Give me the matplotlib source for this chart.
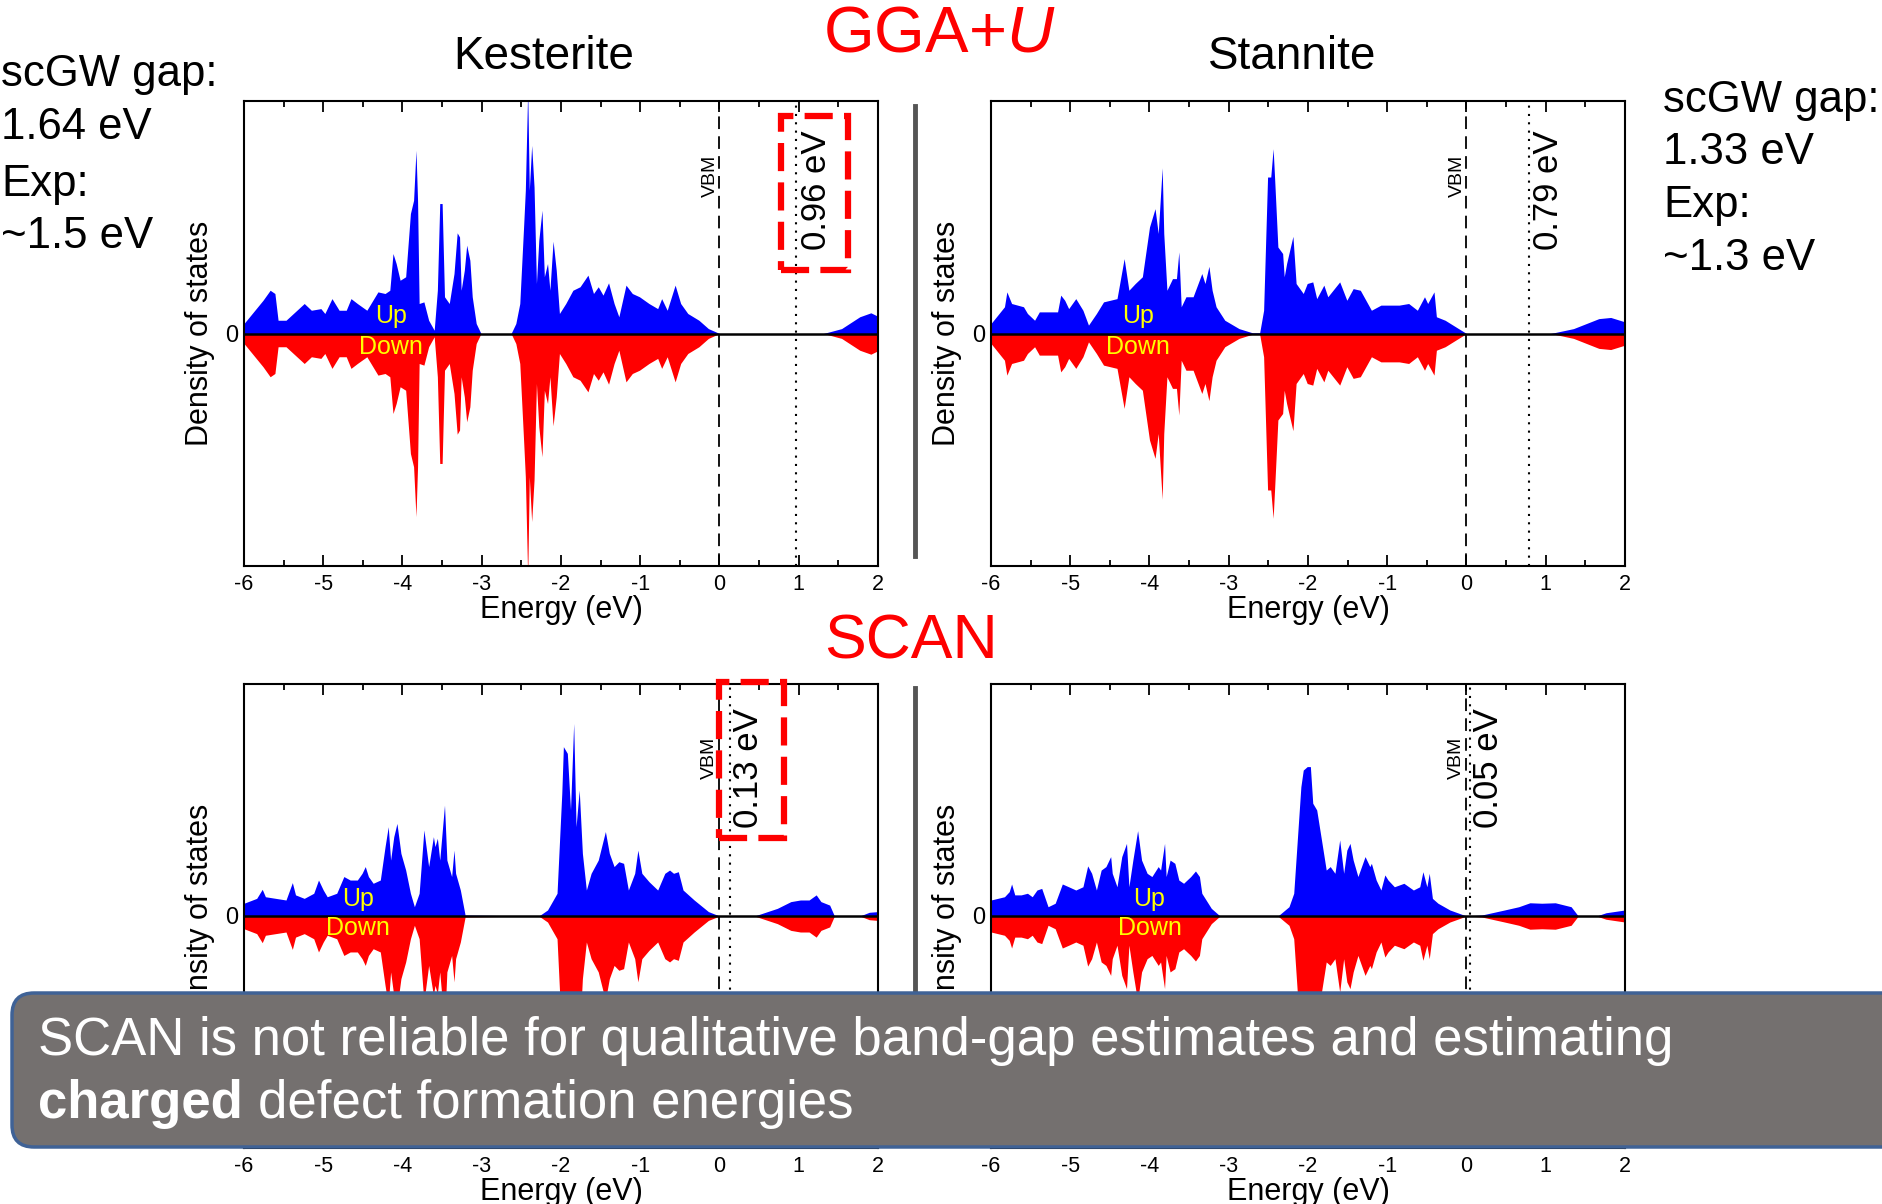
"""
Densidade de estados (DOS) - Kesterite x Stannite, GGA+U e SCAN
"""
import numpy as np
import matplotlib.pyplot as plt
from matplotlib.lines import Line2D
from matplotlib.patches import Rectangle, FancyBboxPatch
from matplotlib.transforms import IdentityTransform

# ==============================================================================
# CONFIGURACAO DE FONTES
# ==============================================================================
plt.rcParams['font.family'] = ['Liberation Sans', 'DejaVu Sans']
plt.rcParams['axes.unicode_minus'] = False
plt.rcParams['mathtext.fontset'] = 'custom'
plt.rcParams['mathtext.rm'] = 'Liberation Sans'
plt.rcParams['mathtext.it'] = 'Liberation Sans:italic'

# ==============================================================================
# DADOS (DOS normalizada pelo topo do eixo, spin up = spin down)
# ==============================================================================
kes_gga_energy = [-6.00, -5.76, -5.67, -5.61, -5.57, -5.47, -5.24, -5.15, -5.03, -4.98,
                  -4.89, -4.80, -4.71, -4.65, -4.57, -4.45, -4.31, -4.22, -4.16, -4.12,
                  -4.08, -4.03, -3.96, -3.90, -3.86, -3.83, -3.81, -3.79, -3.73, -3.67,
                  -3.60, -3.56, -3.53, -3.50, -3.47, -3.41, -3.35, -3.31, -3.28, -3.26,
                  -3.22, -3.19, -3.15, -3.12, -3.07, -3.01, -2.63, -2.57, -2.52, -2.47,
                  -2.45, -2.42, -2.40, -2.37, -2.34, -2.31, -2.28, -2.24, -2.21, -2.17,
                  -2.14, -2.10, -2.06, -2.02, -1.94, -1.85, -1.76, -1.66, -1.59, -1.53,
                  -1.47, -1.40, -1.33, -1.27, -1.18, -1.10, -1.01, -0.89, -0.78, -0.73,
                  -0.66, -0.56, -0.49, -0.40, -0.26, -0.14, 0.00, 1.31, 1.54, 1.77,
                  1.91, 2.00]
kes_gga_dos = [0.043, 0.143, 0.186, 0.172, 0.057, 0.057, 0.129, 0.100, 0.107, 0.086,
               0.150, 0.100, 0.100, 0.150, 0.129, 0.100, 0.179, 0.172, 0.186, 0.344,
               0.301, 0.229, 0.244, 0.516, 0.573, 0.788, 0.573, 0.129, 0.136, 0.057,
               0.014, 0.186, 0.559, 0.559, 0.158, 0.129, 0.258, 0.433, 0.415, 0.186,
               0.272, 0.380, 0.315, 0.158, 0.043, 0.000, 0.000, 0.043, 0.129, 0.473,
               0.616, 1.050, 0.616, 0.809, 0.630, 0.215, 0.401, 0.530, 0.244, 0.301,
               0.186, 0.397, 0.272, 0.086, 0.129, 0.186, 0.201, 0.251, 0.172, 0.201,
               0.165, 0.218, 0.129, 0.072, 0.208, 0.172, 0.158, 0.129, 0.107, 0.150,
               0.100, 0.208, 0.129, 0.086, 0.057, 0.021, 0.000, 0.000, 0.021, 0.072,
               0.089, 0.074]

sta_gga_energy = [-6.00, -5.83, -5.80, -5.74, -5.59, -5.54, -5.45, -5.39, -5.16, -5.12,
                  -5.07, -5.02, -4.93, -4.84, -4.77, -4.67, -4.58, -4.41, -4.32, -4.26,
                  -4.18, -4.09, -4.00, -3.93, -3.89, -3.84, -3.82, -3.78, -3.71, -3.66,
                  -3.63, -3.60, -3.54, -3.45, -3.34, -3.30, -3.25, -3.21, -3.16, -3.05,
                  -2.87, -2.70, -2.61, -2.56, -2.51, -2.47, -2.44, -2.42, -2.38, -2.32,
                  -2.30, -2.27, -2.19, -2.15, -2.06, -2.01, -1.94, -1.89, -1.80, -1.75,
                  -1.60, -1.51, -1.43, -1.34, -1.20, -1.08, -0.85, -0.73, -0.62, -0.53,
                  -0.49, -0.41, -0.38, -0.27, -0.10, 0.00, 1.06, 1.35, 1.67, 1.82,
                  2.00]
sta_gga_dos = [0.043, 0.115, 0.179, 0.129, 0.115, 0.086, 0.057, 0.093, 0.093, 0.165,
               0.143, 0.107, 0.150, 0.100, 0.036, 0.086, 0.136, 0.150, 0.322, 0.186,
               0.215, 0.244, 0.458, 0.537, 0.430, 0.713, 0.430, 0.186, 0.236, 0.236,
               0.351, 0.115, 0.158, 0.158, 0.258, 0.215, 0.289, 0.186, 0.115, 0.057,
               0.021, 0.003, 0.003, 0.100, 0.673, 0.673, 0.795, 0.659, 0.372, 0.344,
               0.244, 0.301, 0.418, 0.215, 0.172, 0.215, 0.222, 0.150, 0.208, 0.158,
               0.222, 0.143, 0.193, 0.186, 0.100, 0.122, 0.122, 0.129, 0.100, 0.158,
               0.129, 0.179, 0.072, 0.057, 0.021, 0.000, 0.000, 0.021, 0.064, 0.069,
               0.050]

kes_scan_energy = [-6.00, -5.84, -5.77, -5.73, -5.47, -5.39, -5.35, -5.24, -5.12, -5.06,
                   -5.00, -4.95, -4.83, -4.74, -4.66, -4.57, -4.51, -4.47, -4.43, -4.37,
                   -4.28, -4.22, -4.18, -4.15, -4.11, -4.07, -4.02, -3.96, -3.90, -3.85,
                   -3.79, -3.73, -3.67, -3.61, -3.59, -3.56, -3.53, -3.47, -3.44, -3.38,
                   -3.35, -3.33, -3.27, -3.21, -2.28, -2.17, -2.05, -1.99, -1.97, -1.92,
                   -1.88, -1.84, -1.81, -1.77, -1.73, -1.68, -1.62, -1.53, -1.44, -1.39,
                   -1.33, -1.27, -1.21, -1.15, -1.07, -1.03, -0.98, -0.89, -0.78, -0.69,
                   -0.63, -0.58, -0.52, -0.46, -0.32, -0.14, 0.00, 0.44, 0.73, 0.90,
                   1.02, 1.13, 1.22, 1.28, 1.39, 1.45, 1.77, 1.89, 2.00]
kes_scan_dos = [0.055, 0.076, 0.115, 0.083, 0.069, 0.144, 0.091, 0.076, 0.098, 0.155,
                0.112, 0.083, 0.098, 0.170, 0.155, 0.155, 0.184, 0.213, 0.170, 0.141,
                0.155, 0.299, 0.385, 0.241, 0.342, 0.399, 0.270, 0.198, 0.098, 0.040,
                0.098, 0.371, 0.213, 0.342, 0.299, 0.335, 0.241, 0.478, 0.241, 0.170,
                0.284, 0.184, 0.112, 0.004, 0.000, 0.026, 0.098, 0.529, 0.730, 0.701,
                0.457, 0.830, 0.385, 0.543, 0.270, 0.112, 0.184, 0.241, 0.364, 0.270,
                0.213, 0.234, 0.227, 0.112, 0.184, 0.284, 0.184, 0.148, 0.112, 0.184,
                0.198, 0.184, 0.191, 0.112, 0.069, 0.019, 0.000, 0.000, 0.033, 0.062,
                0.069, 0.069, 0.091, 0.062, 0.047, 0.000, 0.000, 0.016, 0.019]

sta_scan_energy = [-6.00, -5.83, -5.77, -5.74, -5.70, -5.62, -5.54, -5.48, -5.42, -5.36,
                   -5.28, -5.19, -5.10, -5.02, -4.93, -4.84, -4.78, -4.73, -4.67, -4.61,
                   -4.55, -4.49, -4.47, -4.41, -4.35, -4.29, -4.26, -4.21, -4.15, -4.10,
                   -4.03, -3.97, -3.89, -3.86, -3.81, -3.79, -3.74, -3.68, -3.63, -3.57,
                   -3.48, -3.42, -3.37, -3.34, -3.22, -3.11, -2.38, -2.24, -2.18, -2.09,
                   -2.06, -2.01, -1.97, -1.94, -1.89, -1.83, -1.77, -1.72, -1.66, -1.60,
                   -1.55, -1.51, -1.47, -1.43, -1.37, -1.28, -1.22, -1.20, -1.14, -1.08,
                   -1.03, -0.99, -0.91, -0.79, -0.67, -0.59, -0.55, -0.50, -0.47, -0.43,
                   -0.36, -0.21, 0.00, 0.19, 0.48, 0.66, 0.80, 0.95, 1.12, 1.32,
                   1.41, 1.64, 1.76, 2.00]
sta_scan_dos = [0.069, 0.083, 0.105, 0.138, 0.091, 0.091, 0.098, 0.083, 0.112, 0.119,
                0.040, 0.055, 0.138, 0.126, 0.112, 0.126, 0.216, 0.184, 0.112, 0.198,
                0.213, 0.256, 0.184, 0.126, 0.256, 0.313, 0.126, 0.241, 0.368, 0.241,
                0.184, 0.170, 0.213, 0.198, 0.313, 0.170, 0.241, 0.227, 0.155, 0.141,
                0.170, 0.194, 0.170, 0.098, 0.033, 0.000, 0.000, 0.040, 0.098, 0.557,
                0.629, 0.644, 0.644, 0.486, 0.457, 0.328, 0.198, 0.213, 0.184, 0.328,
                0.184, 0.284, 0.313, 0.241, 0.170, 0.256, 0.213, 0.227, 0.155, 0.112,
                0.177, 0.155, 0.126, 0.141, 0.112, 0.126, 0.191, 0.126, 0.184, 0.076,
                0.055, 0.026, 0.000, 0.004, 0.026, 0.040, 0.057, 0.055, 0.057, 0.040,
                0.000, 0.000, 0.014, 0.026]

# gaps (eV) e textos
gap_values = [0.96, 0.79, 0.13, 0.05]
gap_labels = ['0.96 eV', '0.79 eV', '0.13 eV', '0.05 eV']
structure_names = ['Kesterite', 'Stannite']
method_names = ['GGA+$U$', 'SCAN']
left_notes = ['scGW gap:', '1.64 eV', 'Exp:', '~1.5 eV']
right_notes = ['scGW gap:', '1.33 eV', 'Exp:', '~1.3 eV']
x_ticks = [-6, -5, -4, -3, -2, -1, 0, 1, 2]
message_line1 = 'SCAN is not reliable for qualitative band-gap estimates and estimating'
message_bold = 'charged'
message_rest = 'defect formation energies'

# ==============================================================================
# LAYOUT (pixels da figura 1883x1204)
# ==============================================================================
W, H = 1883, 1204
RED = '#fe0000'


def add_axes_px(fig, x0, y0, x1, y1):
    return fig.add_axes([x0 / W, 1 - y1 / H, (x1 - x0) / W, (y1 - y0) / H])


def draw_dos(ax, energy, dos, gap, gap_label, up_x, up_y, down_y, vbm_x, gap_x, gap_top):
    e = np.array(energy)
    d = np.array(dos)
    ax.fill_between(e, 0, d, color='#0000ff', lw=0, zorder=2)
    ax.fill_between(e, 0, -d, color='#ff0000', lw=0, zorder=2)
    ax.axhline(0, color='black', lw=1.8, zorder=3)
    ax.axvline(0, color='black', lw=1.3, dashes=(7, 4), zorder=4)
    ax.axvline(gap, color='black', lw=1.5, ls=(0, (1, 3)), zorder=4)

    ax.set_xlim(-6, 2)
    ax.set_ylim(-1, 1)
    ax.set_xticks(x_ticks)
    ax.set_xticklabels([str(t) for t in x_ticks], fontsize=15.5)
    ax.set_xticks(np.arange(-5.5, 2, 1), minor=True)
    ax.tick_params(axis='x', which='both', direction='in', top=True, width=1.3, pad=6)
    ax.tick_params(axis='x', which='major', length=8)
    ax.tick_params(axis='x', which='minor', length=4.5)
    ax.set_yticks([0])
    ax.set_yticklabels(['0'], fontsize=17)
    ax.tick_params(axis='y', length=0, pad=4)
    for s in ax.spines.values():
        s.set_linewidth(1.5)

    ax.set_ylabel('Density of states', fontsize=22)
    ax.yaxis.set_label_coords(-0.045, 0.5)
    ax.set_xlabel('Energy (eV)', fontsize=22)
    ax.xaxis.set_label_coords(0.5, -0.062)
    ax.xaxis.label.set_va('top')

    ax.text(up_x, up_y, 'Up', color='#ffff00', fontsize=18, ha='center', va='center', zorder=5)
    ax.text(up_x, down_y, 'Down', color='#ffff00', fontsize=18, ha='center', va='center', zorder=5)
    ax.text(vbm_x, 0.68, 'VBM', rotation=90, fontsize=14, ha='center', va='center', zorder=5)
    ax.text(gap_x, gap_top, gap_label, rotation=90, fontsize=25, ha='center', va='top', zorder=5)


def main():
    print('--- Gerando figura de DOS ---')
    fig = plt.figure(figsize=(W / 100, H / 100), dpi=100)
    fig.patch.set_facecolor('white')

    # 1. Paineis
    ax_tl = add_axes_px(fig, 244, 101, 878, 566)
    ax_tr = add_axes_px(fig, 991, 101, 1625, 566)
    ax_bl = add_axes_px(fig, 244, 684, 878, 1148)
    ax_br = add_axes_px(fig, 991, 684, 1625, 1148)

    draw_dos(ax_tl, kes_gga_energy, kes_gga_dos, gap_values[0], gap_labels[0],
             -4.15, 0.077, -0.058, -0.12, 1.23, 0.875)
    draw_dos(ax_tr, sta_gga_energy, sta_gga_dos, gap_values[1], gap_labels[1],
             -4.15, 0.077, -0.058, -0.12, 1.04, 0.875)
    draw_dos(ax_bl, kes_scan_energy, kes_scan_dos, gap_values[2], gap_labels[2],
             -4.56, 0.073, -0.05, -0.13, 0.37, 0.895)
    draw_dos(ax_br, sta_scan_energy, sta_scan_dos, gap_values[3], gap_labels[3],
             -4.0, 0.073, -0.05, -0.13, 0.28, 0.895)

    # 2. Caixas vermelhas tracejadas
    for ax, (x0, y0, x1, y1) in [(ax_tl, (0.776, 0.275, 1.62, 0.936)),
                                 (ax_bl, (0.0, 0.336, 0.81, 1.009))]:
        ax.add_patch(Rectangle((x0, y0), x1 - x0, y1 - y0, fill=False, edgecolor=RED,
                               lw=4.5, ls=(0, (4.5, 1.8)), clip_on=False, zorder=6))

    # 3. Titulos e notas
    fig.text(544 / W, 1 - 57 / H, structure_names[0], fontsize=33, ha='center', va='center')
    fig.text(1292 / W, 1 - 57 / H, structure_names[1], fontsize=33, ha='center', va='center')
    fig.text(939 / W, 1 - 34 / H, method_names[0], fontsize=47, color=RED, ha='center', va='center')
    fig.text(911 / W, 1 - 642 / H, method_names[1], fontsize=45, color=RED, ha='center', va='center')

    for line, yb in zip(left_notes, [86, 139, 196, 248]):
        fig.text(1 / W, 1 - yb / H, line, fontsize=31.5, ha='left', va='baseline')
    for line, yb in zip(right_notes, [112, 164, 217, 270]):
        fig.text(1663 / W, 1 - yb / H, line, fontsize=31.5, ha='left', va='baseline')

    # 4. Separadores verticais
    for y0, y1 in [(106, 556), (688, 1000)]:
        fig.add_artist(Line2D([915 / W, 915 / W], [1 - y0 / H, 1 - y1 / H],
                              transform=fig.transFigure, color='#555555', lw=3.5))

    # 5. Caixa de mensagem
    box = FancyBboxPatch((12, H - 1147), 1900, 154, boxstyle='round,pad=0,rounding_size=22',
                         transform=IdentityTransform(), facecolor='#74706f',
                         edgecolor='#3f6296', lw=2.5, zorder=10)
    fig.add_artist(box)
    fig.text(38 / W, 1 - 1055 / H, message_line1, fontsize=38, color='white',
             ha='left', va='baseline', zorder=11)
    t_bold = fig.text(38 / W, 1 - 1118 / H, message_bold, fontsize=38, color='white',
                      fontweight='bold', ha='left', va='baseline', zorder=11)
    renderer = fig.canvas.get_renderer()
    bb = t_bold.get_window_extent(renderer)
    fig.text((bb.x1 + 15) / W, 1 - 1118 / H, message_rest, fontsize=38, color='white',
             ha='left', va='baseline', zorder=11)

    fig.savefig('out.png', dpi=100)
    print('Figura salva em out.png')


if __name__ == '__main__':
    main()
